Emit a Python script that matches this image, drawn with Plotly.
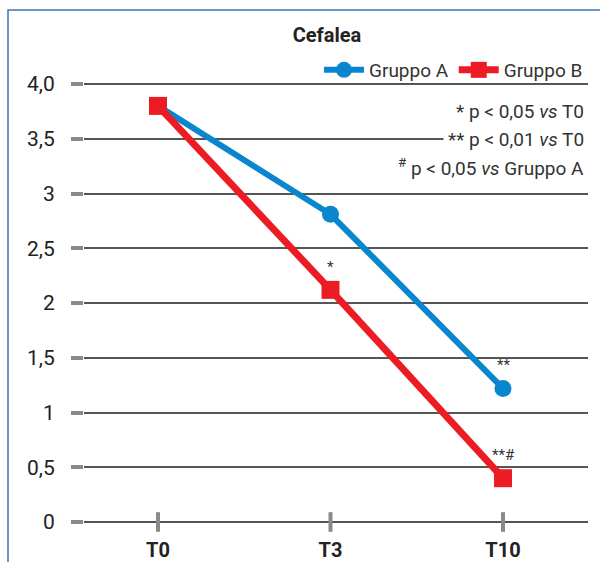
import plotly.graph_objects as go

# Time points and mean headache scores per group
timepoints = ["T0", "T3", "T10"]
gruppo_a = [3.8, 2.81, 1.22]
gruppo_b = [3.8, 2.12, 0.40]

# Significance markers over each point
sig_a = ["", "", "**"]
sig_b = ["", "*", "**#"]

y_ticks = [0, 0.5, 1, 1.5, 2, 2.5, 3, 3.5, 4.0]
y_tick_text = ["0", "0,5", "1", "1,5", "2", "2,5", "3", "3,5", "4,0"]

FONT = "Roboto, Liberation Sans, sans-serif"
BLUE = "#0a86cf"
RED = "#ec1c24"
GRID = "#555555"
TICK = "#8a8a8a"

x_idx = list(range(len(timepoints)))

fig = go.Figure()

# Vertical tick dashes on the zero line
fig.add_trace(go.Scatter(
    x=x_idx, y=[0] * len(x_idx), mode="markers",
    marker=dict(symbol="line-ns", size=14, line=dict(width=4, color=TICK)),
    showlegend=False, hoverinfo="skip", cliponaxis=False,
))

fig.add_trace(go.Scatter(
    x=x_idx, y=gruppo_a, mode="lines+markers", name="Gruppo A",
    line=dict(color=BLUE, width=6),
    marker=dict(symbol="circle", size=17, color=BLUE),
    cliponaxis=False,
))
fig.add_trace(go.Scatter(
    x=x_idx, y=gruppo_b, mode="lines+markers", name="Gruppo B",
    line=dict(color=RED, width=7),
    marker=dict(symbol="square", size=18, color=RED),
    cliponaxis=False,
))

# Significance stars above the points
for xs, ys, labels in ((x_idx, gruppo_a, sig_a), (x_idx, gruppo_b, sig_b)):
    for xv, yv, lab in zip(xs, ys, labels):
        if lab:
            fig.add_annotation(
                x=xv, y=yv, text=lab, showarrow=False, yshift=23,
                font=dict(family=FONT, size=15, color="#333333"),
            )

# Legend notes for the significance symbols (white box hides the grid behind)
notes = [
    "* p < 0,05 <i>vs</i> T0",
    "** p < 0,01 <i>vs</i> T0",
    "<sup>#</sup> p < 0,05 <i>vs</i> Gruppo A",
]
note_y_px = [111, 139, 167]
for txt, ypx in zip(notes, note_y_px):
    fig.add_annotation(
        xref="paper", yref="paper", x=(589 - 84) / 504, y=(528 - ypx) / 450,
        xanchor="right", yanchor="middle", text=txt, showarrow=False,
        bgcolor="white", borderpad=4,
        font=dict(family=FONT, size=19, color="#333333"),
    )

# Blue frame along the top and left edges
fig.add_shape(
    type="rect", xref="paper", yref="paper",
    x0=(8 - 84) / 504, x1=(604 - 84) / 504,
    y0=(528 - 566) / 450, y1=(528 - 10) / 450,
    line=dict(color="#3d72b3", width=1.5), layer="below",
)

fig.update_layout(
    width=600, height=562,
    margin=dict(l=84, r=12, t=78, b=34, autoexpand=False),
    paper_bgcolor="white", plot_bgcolor="white",
    font=dict(family=FONT, color="#222222"),
    title=dict(
        text="<b>Cefalea</b>", x=327 / 600, xanchor="center",
        y=1 - 35 / 562, yanchor="middle", font=dict(family=FONT, size=20, color="#222222"),
    ),
    legend=dict(
        orientation="h", x=1.0, xanchor="right", y=(528 - 70) / 450, yanchor="middle",
        font=dict(family=FONT, size=19, color="#333333"), bgcolor="rgba(0,0,0,0)",
        itemwidth=40,
    ),
    xaxis=dict(
        range=[-74 / 172.5, 2 + 85 / 172.5],
        tickvals=x_idx, ticktext=[f"<b>{t}</b>" for t in timepoints],
        showgrid=False, zeroline=False, showline=False, ticks="",
        ticklabelstandoff=8,
        tickfont=dict(family=FONT, size=20, color="#222222"),
    ),
    yaxis=dict(
        range=[-6 / 109.5, 4 + 6 / 109.5],
        tickvals=y_ticks, ticktext=y_tick_text,
        showgrid=True, gridcolor=GRID, gridwidth=1.5, zeroline=False,
        ticks="outside", ticklen=12, tickwidth=4, tickcolor=TICK,
        ticklabelstandoff=12,
        tickfont=dict(family=FONT, size=21, color="#222222"),
    ),
)

fig.write_html("out.html")
